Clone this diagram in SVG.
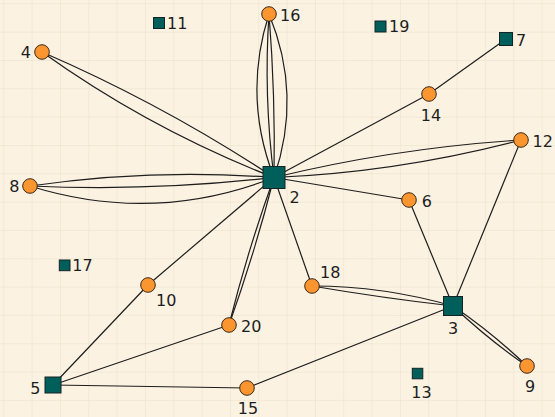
<svg xmlns="http://www.w3.org/2000/svg" width="555" height="417" viewBox="0 0 555 417">
<defs>
<pattern id="grid" x="3.3" y="3.3" width="28.33" height="28.33" patternUnits="userSpaceOnUse">
<path d="M0 0H28.33M0 0V28.33" fill="none" stroke="#d6c5a6" stroke-width="1" stroke-opacity="0.45"/>
</pattern>
</defs>
<style>
.e{fill:none;stroke:#1e1e1e;stroke-width:1.2}
.c{fill:#fb9530;stroke:#3b2a18;stroke-width:1}
.s{fill:#005f5b;stroke:#142424;stroke-width:1}
text{font-family:"DejaVu Sans",sans-serif;font-size:16px;fill:#1e1e1e}
.m{text-anchor:middle}
.r{text-anchor:end}
</style>
<rect width="555" height="417" fill="#fbf2e2"/>
<rect width="555" height="417" fill="url(#grid)"/>
<g id="connectors">
<path class="e" d="M274 177.5Q242.5 96.6 269 14"/>
<path class="e" d="M274 177.5Q263.5 96 269 14"/>
<path class="e" d="M274 177.5Q275.5 95.6 269 14"/>
<path class="e" d="M274 177.5Q302.5 94.8 269 14"/>
<path class="e" d="M274 177.5Q151.5 168.2 30 186"/>
<path class="e" d="M274 177.5Q152.3 191.6 30 186"/>
<path class="e" d="M274 177.5Q153.5 224.7 30 186"/>
<path class="e" d="M274 177.5Q163.5 104.6 42 52"/>
<path class="e" d="M274 177.5Q150.1 129.3 42 52"/>
<path class="e" d="M274 177.5Q395.9 147.9 521 140"/>
<path class="e" d="M274 177.5Q399.5 172.1 521 140"/>
<path class="e" d="M274 177.5Q247.7 250.1 229 325"/>
<path class="e" d="M274 177.5Q254.9 252.3 229 325"/>
<path class="e" d="M312 286Q383.9 286.1 453 306"/>
<path class="e" d="M312 286Q382.2 298 453 306"/>
<path class="e" d="M453 306Q487.5 339 527 366"/>
<path class="e" d="M453 306Q492.5 333 527 366"/>
<path class="e" d="M274 177.5L429 94"/>
<path class="e" d="M429 94L506 39"/>
<path class="e" d="M274 177.5L409 200"/>
<path class="e" d="M274 177.5L312 286"/>
<path class="e" d="M274 177.5L148 285"/>
<path class="e" d="M148 285L53 385"/>
<path class="e" d="M53 385L229 325"/>
<path class="e" d="M53 385L247 388"/>
<path class="e" d="M247 388L453 306"/>
<path class="e" d="M409 200L453 306"/>
<path class="e" d="M521 140L453 306"/>
</g>
<g id="n2"><rect class="s" x="263" y="166.5" width="22" height="22"/><text x="289.5" y="203">2</text></g>
<g id="n3"><rect class="s" x="443.5" y="296.5" width="19" height="19"/><text class="m" x="453" y="334">3</text></g>
<g id="n5"><rect class="s" x="45" y="377" width="16" height="16"/><text class="r" x="40.5" y="394">5</text></g>
<g id="n7"><rect class="s" x="499.5" y="32.5" width="13" height="13"/><text x="516" y="46">7</text></g>
<g id="n11"><rect class="s" x="153.5" y="17.5" width="11" height="11"/><text x="167" y="29">11</text></g>
<g id="n19"><rect class="s" x="375" y="21" width="11" height="11"/><text x="389" y="32">19</text></g>
<g id="n17"><rect class="s" x="59.3" y="260" width="10.7" height="10.7"/><text x="72.3" y="271">17</text></g>
<g id="n13"><rect class="s" x="412.3" y="368.3" width="10.5" height="10.5"/><text class="m" x="421.5" y="398">13</text></g>
<g id="n16"><circle class="c" cx="269" cy="14" r="7.3"/><text x="280" y="21">16</text></g>
<g id="n4"><circle class="c" cx="42" cy="52" r="7.3"/><text class="r" x="31" y="58">4</text></g>
<g id="n8"><circle class="c" cx="30" cy="186" r="7.3"/><text class="r" x="19.5" y="192">8</text></g>
<g id="n14"><circle class="c" cx="429" cy="94" r="7.3"/><text class="m" x="431" y="121">14</text></g>
<g id="n12"><circle class="c" cx="521" cy="140" r="7.3"/><text x="532.5" y="147">12</text></g>
<g id="n6"><circle class="c" cx="409" cy="200" r="7.3"/><text x="421.7" y="207">6</text></g>
<g id="n18"><circle class="c" cx="312" cy="286" r="7.3"/><text x="320" y="278">18</text></g>
<g id="n9"><circle class="c" cx="527" cy="366" r="7.3"/><text class="m" x="530" y="392">9</text></g>
<g id="n10"><circle class="c" cx="148" cy="285" r="7.3"/><text x="156" y="306">10</text></g>
<g id="n20"><circle class="c" cx="229" cy="325" r="7.3"/><text x="241" y="332">20</text></g>
<g id="n15"><circle class="c" cx="247" cy="388" r="7.3"/><text class="m" x="248" y="414">15</text></g>
</svg>
